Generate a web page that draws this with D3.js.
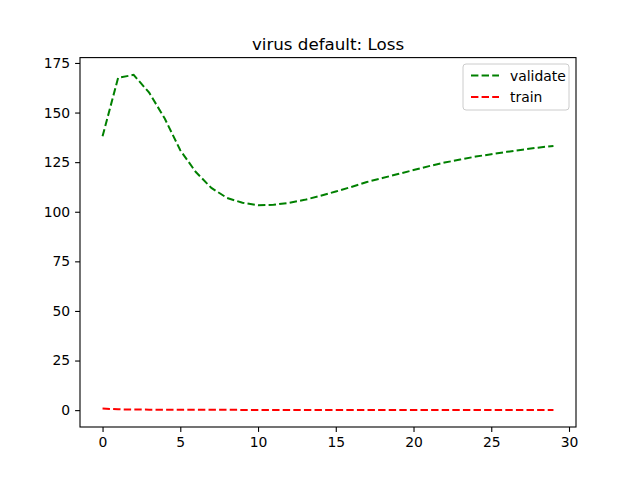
<!DOCTYPE html>
<html><head><meta charset="utf-8">
<script src="https://cdn.jsdelivr.net/npm/d3@7"></script>
<style>body{margin:0;background:#fff}text{font-family:"DejaVu Sans",sans-serif}</style>
</head><body><svg width="640" height="480"></svg>
<script>
var epochs = d3.range(30);
var validate = [138, 167.5, 169, 160, 147, 131, 120, 112, 107, 104.5, 103.3, 103.5, 104.5, 106, 108, 110.2, 112.5, 115, 117, 119, 121, 123, 124.8, 126.3, 127.8, 129, 130.2, 131.3, 132.3, 133.2];
var train = [0.8, 0.4, 0.3, 0.25, 0.2, 0.18, 0.16, 0.15, 0.14, 0.13, 0.12, 0.11, 0.1, 0.1, 0.09, 0.09, 0.08, 0.08, 0.08, 0.07, 0.07, 0.07, 0.06, 0.06, 0.06, 0.06, 0.05, 0.05, 0.05, 0.05];
var xTicks = [0, 5, 10, 15, 20, 25, 30];
var yTicks = [0, 25, 50, 75, 100, 125, 150, 175];

var svg = d3.select("svg");
var L = 80, R = 576, T = 57.6, B = 427;
var x = d3.scaleLinear().domain([-1.45, 30.45]).range([L, R]);
var y = d3.scaleLinear().domain([-8.5, 177.7]).range([B, T]);

svg.append("g").attr("transform", "translate(0," + B + ")")
    .call(d3.axisBottom(x).tickValues(xTicks).tickSize(4.9).tickPadding(4.9).tickFormat(d3.format("d")))
    .call(g => g.select(".domain").remove());
svg.append("g").attr("transform", "translate(" + L + ",0)")
    .call(d3.axisLeft(y).tickValues(yTicks).tickSize(4.9).tickPadding(4.9).tickFormat(d3.format("d")))
    .call(g => g.select(".domain").remove());
svg.selectAll(".tick text").attr("font-size", 13.9).attr("fill", "#000");
svg.selectAll(".tick line").attr("stroke", "#000").attr("stroke-width", 1.1);

var line = d3.line().x((d, i) => x(epochs[i])).y(d => y(d));
svg.append("path").datum(validate).attr("d", line).attr("fill", "none")
    .attr("stroke", "green").attr("stroke-width", 2).attr("stroke-dasharray", "7.4,3.2");
svg.append("path").datum(train).attr("d", line).attr("fill", "none")
    .attr("stroke", "red").attr("stroke-width", 2).attr("stroke-dasharray", "7.4,3.2");

svg.append("rect").attr("x", L).attr("y", T).attr("width", R - L).attr("height", B - T)
    .attr("fill", "none").attr("stroke", "#000").attr("stroke-width", 1.1);

svg.append("text").attr("x", (L + R) / 2).attr("y", T - 8).attr("text-anchor", "middle")
    .attr("font-size", 16.7).text("virus default: Loss");

// legend
var lg = svg.append("g").attr("transform", "translate(463,64)");
lg.append("rect").attr("width", 106).attr("height", 46).attr("rx", 3)
    .attr("fill", "#fff").attr("fill-opacity", 0.8).attr("stroke", "#ccc");
[["validate", "green"], ["train", "red"]].forEach((d, i) => {
    var yy = 11.5 + i * 21.5;
    lg.append("line").attr("x1", 8).attr("x2", 36).attr("y1", yy).attr("y2", yy)
        .attr("stroke", d[1]).attr("stroke-width", 2).attr("stroke-dasharray", "7.4,3.2");
    lg.append("text").attr("x", 47).attr("y", yy + 5).attr("font-size", 13.9).text(d[0]);
});
</script></body></html>
